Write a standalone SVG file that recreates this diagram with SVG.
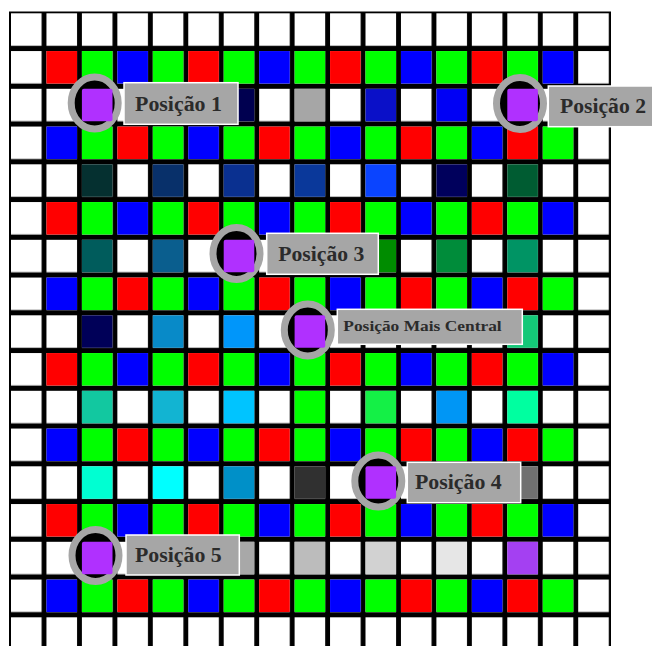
<svg xmlns="http://www.w3.org/2000/svg" xmlns:xlink="http://www.w3.org/1999/xlink" width="652" height="646" viewBox="0 0 652 646">
<style>
.R{fill:#ff0000}.G{fill:#00ff00}.B{fill:#0000ff}
.ring{fill:#000;stroke:#a6a6a6;stroke-width:7}
.pur{fill:#b030ff}
.box{fill:#a6a6a6;stroke:#ffffff;stroke-width:1.5}
.lbl{font-family:"Liberation Serif","Times New Roman",serif;font-weight:bold;font-size:20px;fill:#2b2b2b}
.lbls{font-size:15px}
</style>
<defs>
<rect id="c" width="30.6" height="32.5"/>
<pattern id="grid" x="11" y="13.3" width="35.45" height="37.75" patternUnits="userSpaceOnUse">
<rect width="30.6" height="32.5" fill="#ffffff"/>
</pattern>
<g id="rowA">
<use href="#c" x="46.45" class="R"/><use href="#c" x="81.9" class="G"/><use href="#c" x="117.35" class="B"/><use href="#c" x="152.8" class="G"/>
<use href="#c" x="188.25" class="R"/><use href="#c" x="223.7" class="G"/><use href="#c" x="259.15" class="B"/><use href="#c" x="294.6" class="G"/>
<use href="#c" x="330.05" class="R"/><use href="#c" x="365.5" class="G"/><use href="#c" x="400.95" class="B"/><use href="#c" x="436.4" class="G"/>
<use href="#c" x="471.85" class="R"/><use href="#c" x="507.3" class="G"/><use href="#c" x="542.75" class="B"/>
</g>
<g id="rowB">
<use href="#c" x="46.45" class="B"/><use href="#c" x="81.9" class="G"/><use href="#c" x="117.35" class="R"/><use href="#c" x="152.8" class="G"/>
<use href="#c" x="188.25" class="B"/><use href="#c" x="223.7" class="G"/><use href="#c" x="259.15" class="R"/><use href="#c" x="294.6" class="G"/>
<use href="#c" x="330.05" class="B"/><use href="#c" x="365.5" class="G"/><use href="#c" x="400.95" class="R"/><use href="#c" x="436.4" class="G"/>
<use href="#c" x="471.85" class="B"/><use href="#c" x="507.3" class="R"/><use href="#c" x="542.75" class="G"/>
</g>
</defs>
<rect width="652" height="646" fill="#ffffff"/>
<g id="grid-board">
<rect x="9" y="11.5" width="602" height="640" fill="#000000"/>
<rect x="9" y="11.5" width="602" height="640" fill="url(#grid)"/>
<use href="#rowA" y="51.05"/>
<use href="#rowB" y="126.55"/>
<use href="#rowA" y="202.05"/>
<use href="#rowB" y="277.55"/>
<use href="#rowA" y="353.05"/>
<use href="#rowB" y="428.55"/>
<use href="#rowA" y="504.05"/>
<use href="#rowB" y="579.55"/>
<!-- row 2 -->
<use href="#c" x="223.7" y="88.8" fill="#000050"/>
<use href="#c" x="294.6" y="88.8" fill="#a6a6a6"/>
<use href="#c" x="365.5" y="88.8" fill="#0a10c8"/>
<use href="#c" x="436.4" y="88.8" fill="#0000f5"/>
<!-- row 4 -->
<use href="#c" x="81.9" y="164.3" fill="#053030"/>
<use href="#c" x="152.8" y="164.3" fill="#08306a"/>
<use href="#c" x="223.7" y="164.3" fill="#0a3090"/>
<use href="#c" x="294.6" y="164.3" fill="#0a389a"/>
<use href="#c" x="365.5" y="164.3" fill="#0a44ff"/>
<use href="#c" x="436.4" y="164.3" fill="#00005c"/>
<use href="#c" x="507.3" y="164.3" fill="#005c32"/>
<!-- row 6 -->
<use href="#c" x="81.9" y="239.8" fill="#005c5c"/>
<use href="#c" x="152.8" y="239.8" fill="#0a5e8e"/>
<use href="#c" x="365.5" y="239.8" fill="#008c00"/>
<use href="#c" x="436.4" y="239.8" fill="#008c3a"/>
<use href="#c" x="507.3" y="239.8" fill="#009464"/>
<!-- row 8 -->
<use href="#c" x="81.9" y="315.3" fill="#000058"/>
<use href="#c" x="152.8" y="315.3" fill="#088ac8"/>
<use href="#c" x="223.7" y="315.3" fill="#0096fa"/>
<use href="#c" x="507.3" y="315.3" fill="#14c878"/>
<!-- row 10 -->
<use href="#c" x="81.9" y="390.8" fill="#12c8a0"/>
<use href="#c" x="152.8" y="390.8" fill="#12b4d2"/>
<use href="#c" x="223.7" y="390.8" fill="#00c4ff"/>
<use href="#c" x="294.6" y="390.8" fill="#00ff00"/>
<use href="#c" x="365.5" y="390.8" fill="#14f046"/>
<use href="#c" x="436.4" y="390.8" fill="#0096f5"/>
<use href="#c" x="507.3" y="390.8" fill="#00ffa0"/>
<!-- row 12 -->
<use href="#c" x="81.9" y="466.3" fill="#00ffd2"/>
<use href="#c" x="152.8" y="466.3" fill="#00ffff"/>
<use href="#c" x="223.7" y="466.3" fill="#0090c8"/>
<use href="#c" x="294.6" y="466.3" fill="#303030"/>
<use href="#c" x="507.3" y="466.3" fill="#707070"/>
<!-- row 14 -->
<use href="#c" x="223.7" y="541.8" fill="#a8a8a8"/>
<use href="#c" x="294.6" y="541.8" fill="#bcbcbc"/>
<use href="#c" x="365.5" y="541.8" fill="#d2d2d2"/>
<use href="#c" x="436.4" y="541.8" fill="#e6e6e6"/>
<use href="#c" x="507.3" y="541.8" fill="#a440f2"/>
</g>
<g id="pos1">
<ellipse class="ring" cx="94.7" cy="103" rx="23.5" ry="26"/>
<rect class="pur" x="81.9" y="88.8" width="30.6" height="32.5" rx="2"/>
<rect class="box" x="124" y="82.7" width="114" height="41.6"/>
<text class="lbl" x="135" y="110.5" textLength="87" lengthAdjust="spacingAndGlyphs">Posição 1</text>
</g>
<g id="pos2">
<ellipse class="ring" cx="520" cy="103.5" rx="23.5" ry="26"/>
<rect class="pur" x="507.3" y="88.8" width="30.6" height="32.5" rx="2"/>
<rect class="box" x="548.3" y="86" width="110" height="40.7"/>
<text class="lbl" x="560" y="113" textLength="86" lengthAdjust="spacingAndGlyphs">Posição 2</text>
</g>
<g id="pos3">
<ellipse class="ring" cx="236.5" cy="253.5" rx="23.5" ry="26"/>
<rect class="pur" x="223.7" y="239.8" width="30.6" height="32.5" rx="2"/>
<rect class="box" x="266.7" y="233.3" width="111.6" height="41"/>
<text class="lbl" x="278.3" y="260.5" textLength="86" lengthAdjust="spacingAndGlyphs">Posição 3</text>
</g>
<g id="pos-central">
<ellipse class="ring" cx="307.8" cy="330" rx="23.5" ry="26"/>
<rect class="pur" x="294.6" y="315.3" width="30.6" height="32.5" rx="2"/>
<rect class="box" x="337.3" y="309.3" width="185" height="35"/>
<text class="lbl lbls" x="343.3" y="330.5" textLength="158.4" lengthAdjust="spacingAndGlyphs">Posição Mais Central</text>
</g>
<g id="pos4">
<ellipse class="ring" cx="378.3" cy="481" rx="23.5" ry="26"/>
<rect class="pur" x="365.5" y="466.3" width="30.6" height="32.5" rx="2"/>
<rect class="box" x="407.3" y="462.3" width="113.4" height="40.4"/>
<text class="lbl" x="415" y="488.5" textLength="86.7" lengthAdjust="spacingAndGlyphs">Posição 4</text>
</g>
<g id="pos5">
<ellipse class="ring" cx="95.5" cy="555.5" rx="23.5" ry="26"/>
<rect class="pur" x="81.9" y="541.8" width="30.6" height="32.5" rx="2"/>
<rect class="box" x="126" y="535" width="113.3" height="40"/>
<text class="lbl" x="135" y="561.7" textLength="86.7" lengthAdjust="spacingAndGlyphs">Posição 5</text>
</g>
</svg>
